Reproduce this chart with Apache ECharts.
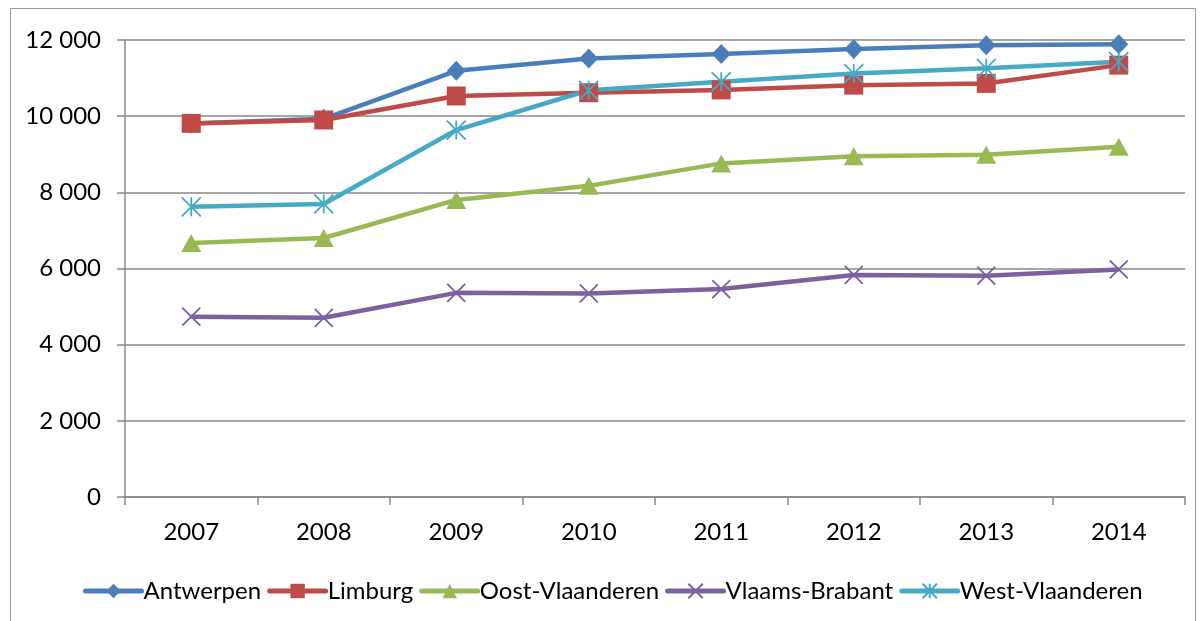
<!DOCTYPE html>
<html>
<head>
<meta charset="utf-8">
<script src="https://cdn.jsdelivr.net/npm/echarts@6/dist/echarts.min.js"></script>
<style>
html,body{margin:0;padding:0;background:#fff;}
#chart{width:1202px;height:621px;}
</style>
</head>
<body>
<div id="chart"></div>
<script>
const years = ['2007','2008','2009','2010','2011','2012','2013','2014'];
const antwerpen = [9810, 9930, 11190, 11515, 11630, 11765, 11865, 11890];
const limburg = [9810, 9900, 10530, 10615, 10690, 10815, 10860, 11340];
const oostVlaanderen = [6670, 6800, 7800, 8170, 8760, 8950, 8985, 9195];
const vlaamsBrabant = [4735, 4705, 5360, 5345, 5460, 5830, 5810, 5975];
const westVlaanderen = [7620, 7695, 9635, 10680, 10905, 11120, 11255, 11430];
const yTicks = { min: 0, max: 12000, step: 2000 };

const FONT = 'Lato';
const crossPath = 'path://M0 0 L10 10 M10 0 L0 10';
const starPath = 'path://M0 0 L10 10 M10 0 L0 10 M5 0 L5 10';

function mk(name, data, color, symbol, size, stroke) {
  return {
    name, type: 'line', data, color,
    symbol, symbolSize: size,
    lineStyle: { width: 4.5, color },
    itemStyle: stroke ? { color: color, borderColor: color, borderWidth: 1.8 } : { color },
    emphasis: { disabled: true },
    z: 2
  };
}

const chart = echarts.init(document.getElementById('chart'), null, { renderer: 'canvas' });
chart.setOption({
  animation: false,
  backgroundColor: '#fff',
  textStyle: { fontFamily: FONT },
  graphic: [{
    type: 'rect', silent: true, z: -1,
    shape: { x: 10.5, y: 8.5, width: 1185, height: 700 },
    style: { fill: 'none', stroke: '#999', lineWidth: 1 }
  }],
  grid: { left: 125, right: 17, top: 40, bottom: 124, containLabel: false },
  legend: {
    left: 78, top: 574,
    itemWidth: 56, itemHeight: 18, itemGap: 6,
    lineStyle: { width: 5, cap: 'round' },
    textStyle: { fontFamily: FONT, fontSize: 24, color: '#000', padding: [0, 0, 0, -3] },
    data: ['Antwerpen', 'Limburg', 'Oost-Vlaanderen', 'Vlaams-Brabant', 'West-Vlaanderen']
  },
  xAxis: {
    type: 'category', data: years, boundaryGap: true,
    axisLine: { lineStyle: { color: '#888', width: 1.5 } },
    axisTick: { show: true, length: 8, interval: 0, lineStyle: { color: '#888', width: 1.5 } },
    axisLabel: { fontFamily: FONT, fontSize: 24, color: '#000', margin: 23, interval: 0 },
    splitLine: { show: false }
  },
  yAxis: {
    type: 'value', min: yTicks.min, max: yTicks.max, interval: yTicks.step,
    axisLine: { show: true, lineStyle: { color: '#888', width: 1.5 } },
    axisTick: { show: true, length: 8, lineStyle: { color: '#888', width: 1.5 } },
    axisLabel: {
      fontFamily: FONT, fontSize: 24, color: '#000', margin: 24,
      formatter: v => String(v).replace(/\B(?=(\d{3})+(?!\d))/g, ' ')
    },
    splitLine: { lineStyle: { color: '#888', width: 1.5 } }
  },
  series: [
    mk('Antwerpen', antwerpen, '#4A7EBB', 'diamond', [19, 20], false),
    mk('Limburg', limburg, '#BE4B48', 'rect', 19, false),
    mk('Oost-Vlaanderen', oostVlaanderen, '#98B954', 'triangle', [20, 18], false),
    mk('Vlaams-Brabant', vlaamsBrabant, '#7D60A0', crossPath, 18, true),
    mk('West-Vlaanderen', westVlaanderen, '#46AAC5', starPath, 19, true)
  ]
});
</script>
</body>
</html>
